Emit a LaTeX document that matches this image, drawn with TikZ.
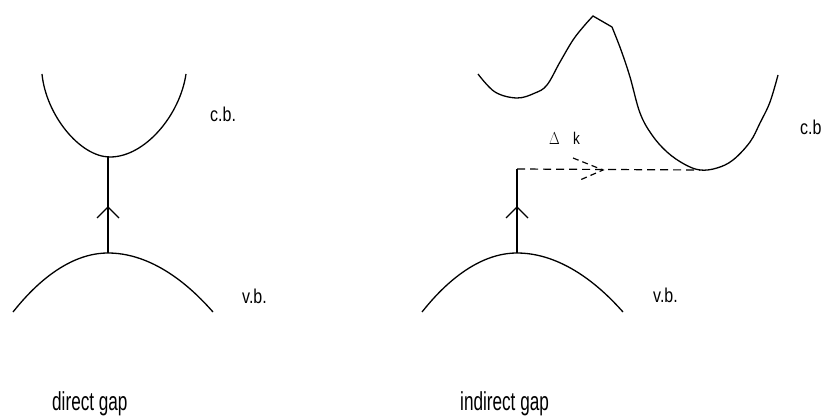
\documentclass[tikz,border=0pt]{standalone}
\usepackage{fontspec}
\setmainfont{Liberation Sans}
\begin{document}
\begin{tikzpicture}[x=1pt,y=-1pt,
  band/.style={line width=1.3pt},
  trans/.style={line width=2.6pt},
  chev/.style={line width=1.1pt},
  dsh/.style={line width=1.2pt,dash pattern=on 8pt off 5pt},
  lbl/.style={anchor=base west,inner sep=0pt,font=\fontsize{20}{20}\selectfont},
  big/.style={anchor=base west,inner sep=0pt,font=\fontsize{26}{26}\selectfont},
  dk/.style={anchor=base west,inner sep=0pt,font=\fontsize{17}{17}\selectfont}]
\useasboundingbox (0,0) rectangle (825,417);
% ---- direct gap ----
\coordinate (cbL) at (110,157);
\coordinate (vbL) at (108,253);
\draw[band] (42,74) .. controls (46,115) and (80,157) .. (cbL)
  .. controls (145,157) and (180,115) .. (186,74);
\draw[band] (13,312) parabola bend (vbL) (213,312);
\draw[trans] (vbL) -- (108,157);
\draw[chev] (97,218) -- (108,207) -- (119,218);
\node[lbl] (cbl1) at (210,122) {\scalebox{0.8}[1]{c.b.}};
\node[lbl] (vbl1) at (242,303) {\scalebox{0.8}[1]{v.b.}};
\node[big] (dg) at (52,410) {\scalebox{0.66}[1]{direct gap}};
% ---- indirect gap ----
\coordinate (vbR) at (517,253);
\coordinate (top) at (517,169);
\coordinate (cbmin) at (700,170);
\draw[band] (422,312) parabola bend (vbR) (623,312);
\draw[band] plot[smooth,tension=0.6] coordinates {(478,74) (495,92) (517,98) (535,93) (547,85) (560,62) (573,40) (584,26) (593,16)}
  -- (612,27)
  plot[smooth,tension=0.6] coordinates {(612,27) (621,50) (630,77) (640,113) (652,135) (667,152) (684,164) (700,170) (717,168) (733,160) (750,142) (760,123) (770,102) (778,75)};
\draw[trans] (vbR) -- (top);
\draw[chev] (506,218) -- (517,207) -- (528,218);
\draw[dsh] (top) -- (cbmin);
\draw[dsh,dash pattern=on 6pt off 4pt] (573,158) -- (603,170) -- (580,180);
\node[dk] (delta) at (549,145) {\scalebox{0.8}[1]{$\Delta$}};
\node[dk] (kk) at (573,145) {\scalebox{0.8}[1]{k}};
\node[lbl] (cbl2) at (800,135) {\scalebox{0.8}[1]{c.b}};
\node[lbl] (vbl2) at (653,302) {\scalebox{0.8}[1]{v.b.}};
\node[big] (ig) at (460,410) {\scalebox{0.66}[1]{indirect gap}};
\end{tikzpicture}
\end{document}
